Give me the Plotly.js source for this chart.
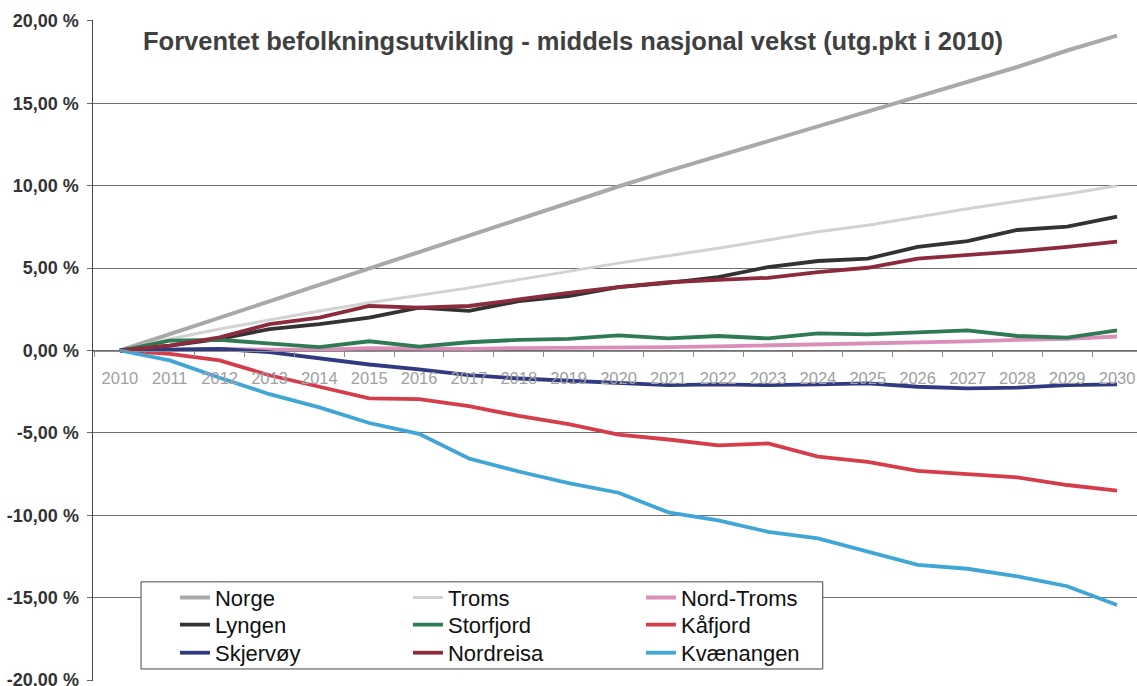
<!DOCTYPE html>
<html>
<head>
<meta charset="utf-8">
<script src="https://cdn.plot.ly/plotly-3.0.1.min.js"></script>
<style>
  html, body { margin: 0; padding: 0; background: #ffffff; }
  #chart { width: 1137px; height: 686px; }
</style>
</head>
<body>
<div id="chart"></div>
<script>
// ---- Data (percent change from 2010) ----
const years = ['2010','2011','2012','2013','2014','2015','2016','2017','2018','2019','2020',
               '2021','2022','2023','2024','2025','2026','2027','2028','2029','2030'];

const norge      = [0, 1.0, 2.0, 3.0, 4.0, 5.0, 6.0, 7.0, 8.0, 9.0, 9.95, 10.9, 11.8, 12.7, 13.6, 14.5, 15.4, 16.3, 17.2, 18.2, 19.1];
const troms      = [0, 0.7, 1.3, 1.85, 2.4, 2.9, 3.35, 3.8, 4.3, 4.8, 5.3, 5.75, 6.2, 6.7, 7.2, 7.6, 8.1, 8.6, 9.05, 9.5, 10.0];
const nordTroms  = [0, 0.05, 0.1, 0.05, 0.05, 0.15, 0.1, 0.1, 0.15, 0.15, 0.2, 0.2, 0.25, 0.3, 0.35, 0.4, 0.5, 0.55, 0.65, 0.7, 0.85];
const lyngen     = [0, 0.3, 0.7, 1.3, 1.6, 2.0, 2.6, 2.4, 3.0, 3.3, 3.84, 4.1, 4.45, 5.06, 5.43, 5.57, 6.29, 6.63, 7.31, 7.51, 8.12];
const storfjord  = [0, 0.6, 0.65, 0.4, 0.2, 0.56, 0.24, 0.5, 0.65, 0.7, 0.92, 0.73, 0.88, 0.73, 1.04, 0.98, 1.08, 1.22, 0.88, 0.78, 1.22];
const kafjord    = [0, -0.2, -0.6, -1.5, -2.2, -2.9, -2.95, -3.37, -3.97, -4.46, -5.1, -5.4, -5.76, -5.64, -6.44, -6.76, -7.3, -7.5, -7.7, -8.16, -8.5];
const skjervoy   = [0, 0.05, 0.1, -0.1, -0.5, -0.85, -1.15, -1.5, -1.7, -1.85, -2.0, -2.1, -2.05, -2.1, -2.05, -2.0, -2.2, -2.3, -2.25, -2.1, -2.05];
const nordreisa  = [0, 0.3, 0.8, 1.6, 2.0, 2.7, 2.6, 2.7, 3.1, 3.5, 3.84, 4.14, 4.29, 4.41, 4.76, 5.02, 5.57, 5.78, 6.02, 6.29, 6.6];
const kvanangen  = [0, -0.6, -1.65, -2.65, -3.45, -4.4, -5.06, -6.55, -7.34, -8.04, -8.63, -9.82, -10.3, -11.0, -11.4, -12.2, -13.0, -13.24, -13.7, -14.3, -15.44];

const seriesNames = ['Norge','Troms','Nord-Troms','Lyngen','Storfjord','Kåfjord','Skjervøy','Nordreisa','Kvænangen'];
const seriesData  = [norge, troms, nordTroms, lyngen, storfjord, kafjord, skjervoy, nordreisa, kvanangen];
const seriesColors = ['#a9a9a9','#d2d2d2','#d98fba','#333333','#2e7a52','#d63d4b','#303a82','#8c2b3c','#3fa6d6'];
const seriesWidths = [4, 3, 3.8, 3.8, 3.8, 3.8, 3.8, 3.8, 3.8];
const legendRows   = ['legend','legend','legend','legend2','legend2','legend2','legend3','legend3','legend3'];

const yTickVals = [20, 15, 10, 5, 0, -5, -10, -15, -20];
const yTickText = ['20,00 %','15,00 %','10,00 %','5,00 %','0,00 %','-5,00 %','-10,00 %','-15,00 %','-20,00 %'];

const titleText = 'Forventet befolkningsutvikling - middels nasjonal vekst (utg.pkt i 2010)';

const FONT = 'Liberation Sans, Arial, sans-serif';

const traces = seriesNames.map((name, i) => ({
  type: 'scatter',
  mode: 'lines',
  name: name,
  x: years,
  y: seriesData[i],
  line: { color: seriesColors[i], width: seriesWidths[i] },
  legend: legendRows[i],
  hoverinfo: 'skip'
}));

const legendCommon = {
  orientation: 'h',
  entrywidth: 188,
  entrywidthmode: 'pixels',
  x: 0.0785,
  xanchor: 'left',
  yanchor: 'middle',
  bgcolor: 'rgba(0,0,0,0)',
  borderwidth: 0,
  font: { family: FONT, size: 22, color: '#111111' }
};

const layout = {
  width: 1137,
  height: 686,
  margin: { l: 93, r: 0, t: 20, b: 5 },
  paper_bgcolor: '#ffffff',
  plot_bgcolor: '#ffffff',
  showlegend: true,
  legend:  Object.assign({}, legendCommon, { y: 0.126 }),
  legend2: Object.assign({}, legendCommon, { y: 0.085 }),
  legend3: Object.assign({}, legendCommon, { y: 0.0425 }),
  xaxis: {
    type: 'category',
    range: [-0.54, 20.4],
    anchor: 'free',
    position: 0.5,
    showline: true,
    linecolor: '#8c8c8c',
    linewidth: 1.5,
    ticks: 'outside',
    tickson: 'boundaries',
    ticklen: 5,
    tickcolor: '#8c8c8c',
    tickwidth: 1,
    showgrid: false,
    zeroline: false,
    ticklabelstandoff: 12,
    tickfont: { family: FONT, size: 16.5, color: '#a0a0a0' }
  },
  yaxis: {
    range: [-20.05, 20.05],
    tickvals: yTickVals,
    ticktext: yTickText,
    showgrid: true,
    gridcolor: '#707070',
    gridwidth: 1,
    zeroline: false,
    showline: true,
    linecolor: '#444444',
    linewidth: 1.5,
    ticks: 'outside',
    ticklen: 5,
    tickcolor: '#666666',
    ticklabelstandoff: 4,
    ticklabeloverflow: 'allow',
    tickfont: { family: FONT, size: 18, color: '#333333', weight: 'bold' }
  },
  shapes: [{
    type: 'rect', xref: 'paper', yref: 'paper',
    x0: 0.046, x1: 0.699, y0: 0.0182, y1: 0.150,
    line: { color: '#444444', width: 1 },
    fillcolor: '#ffffff',
    layer: 'above'
  }],
  annotations: [{
    text: titleText,
    xref: 'paper', yref: 'paper',
    x: 0.4593, y: 0.968,
    xanchor: 'center', yanchor: 'middle',
    showarrow: false,
    font: { family: FONT, size: 25.5, color: '#404040', weight: 'bold' }
  }]
};

Plotly.newPlot('chart', traces, layout, { staticPlot: true, displayModeBar: false });
</script>
</body>
</html>
